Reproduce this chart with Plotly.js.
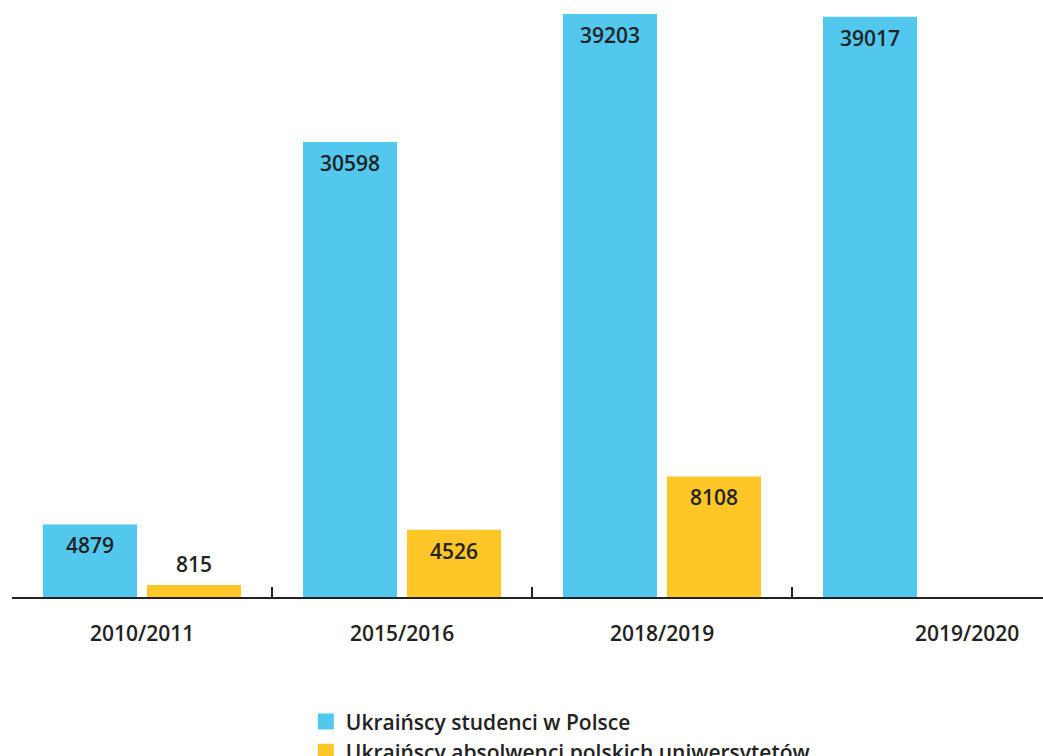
<!DOCTYPE html>
<html>
<head>
<meta charset="utf-8">
<script src="https://cdn.plot.ly/plotly-3.0.1.min.js"></script>
<style>html,body{margin:0;padding:0;background:#fff;}#chart{width:1043px;height:756px;}</style>
</head>
<body>
<div id="chart"></div>
<script>
const categories = ["2010/2011", "2015/2016", "2018/2019", "2019/2020"];
const studentsName = "Ukraińscy studenci w Polsce";
const studentsValues = [4879, 30598, 39203, 39017];
const graduatesName = "Ukraińscy absolwenci polskich uniwersytetów";
const graduatesValues = [815, 4526, 8108, null];

const BLUE = "#52C8EE";
const YELLOW = "#FEC627";
const TEXT = "#222222";
const FONT = "Open Sans, Noto Sans, sans-serif";

const traces = [
  {type: "bar", name: studentsName, x: categories, y: studentsValues, marker: {color: BLUE}, showlegend: false, hoverinfo: "none"},
  {type: "bar", name: graduatesName, x: categories, y: graduatesValues, marker: {color: YELLOW}, showlegend: false, hoverinfo: "none"},
  {type: "scatter", mode: "markers", name: studentsName, x: [null], y: [null], marker: {symbol: "square", size: 17, color: BLUE}, showlegend: true},
  {type: "scatter", mode: "markers", name: graduatesName, x: [null], y: [null], marker: {symbol: "square", size: 17, color: YELLOW}, showlegend: true}
];

const maxVal = Math.max(...studentsValues);
const annotations = [];
[studentsValues, graduatesValues].forEach((vals, ti) => {
  vals.forEach((v, i) => {
    if (v == null) return;
    const inside = v > 0.06 * maxVal;
    annotations.push({
      x: categories[i], y: v, xref: "x", yref: "y",
      text: String(v), showarrow: false,
      xshift: ti === 0 ? -52 : 52,
      yanchor: inside ? "top" : "bottom",
      yshift: inside ? -5 : 5,
      font: {family: FONT, size: 21, color: TEXT, weight: 600}
    });
  });
});
const labelShift = [0, 0, 0, 45];
categories.forEach((c, i) => {
  annotations.push({
    x: c, y: 0, xref: "x", yref: "paper", text: c, showarrow: false,
    yanchor: "top", yshift: -20, xshift: labelShift[i],
    font: {family: FONT, size: 21, color: TEXT, weight: 600}
  });
});

const layout = {
  width: 1043, height: 756,
  margin: {l: 12, r: 0, t: 0, b: 159, autoexpand: false},
  paper_bgcolor: "#fff", plot_bgcolor: "#fff",
  barmode: "group", bargap: 0.2, bargroupgap: 0.096,
  xaxis: {
    type: "category", range: [-0.5, -0.5 + 1031 / 260],
    showline: true, linecolor: TEXT, linewidth: 2,
    ticks: "inside", tickson: "boundaries", ticklen: 10, tickwidth: 2, tickcolor: TEXT,
    showticklabels: false, showgrid: false, zeroline: false, fixedrange: true
  },
  yaxis: {range: [0, 40150], visible: false, showgrid: false, zeroline: false, fixedrange: true},
  showlegend: true,
  legend: {
    orientation: "v", xref: "container", yref: "container",
    x: 0.2932, xanchor: "left", y: 0.0722, yanchor: "top",
    font: {family: FONT, size: 21, color: TEXT, weight: 600},
    tracegroupgap: 0, bgcolor: "rgba(0,0,0,0)"
  },
  annotations: annotations
};

Plotly.newPlot("chart", traces, layout, {displayModeBar: false, staticPlot: true});
</script>
</body>
</html>
